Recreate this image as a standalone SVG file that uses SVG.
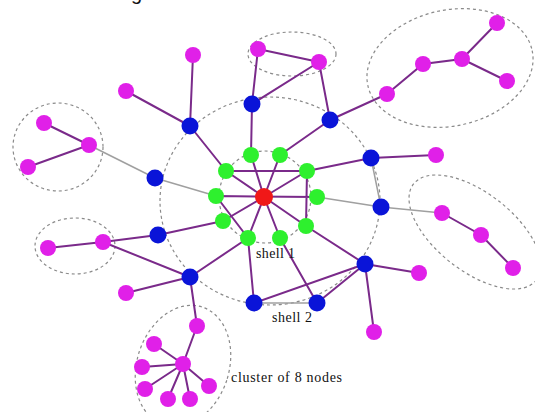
<svg xmlns="http://www.w3.org/2000/svg" width="535" height="412" viewBox="0 0 535 412">
<style>
.e{stroke:#7a2a8a;stroke-width:2;fill:none}
.g{stroke:#a0a0a0;stroke-width:1.5;fill:none}
.d{stroke:#8a8a8a;stroke-width:1.2;stroke-dasharray:3 3;fill:none}
.m{fill:#e020e8}
.b{fill:#0a14d8}
.gr{fill:#2ef02e}
.r{fill:#f01818}
text{font-family:"Liberation Serif","Times New Roman",serif;font-size:14px;fill:#111}
</style>
<rect width="535" height="412" fill="#fff"/>
<text x="131" y="0" style="font-family:'Liberation Sans',Arial,sans-serif;font-size:20px">g</text>
<g id="regions">
<ellipse class="d" cx="270" cy="201" rx="110" ry="104"/>
<circle class="d" cx="265" cy="197" r="46"/>
<ellipse class="d" cx="292" cy="54" rx="44" ry="22"/>
<ellipse class="d" cx="450" cy="68" rx="84" ry="58" transform="rotate(-12 450 68)"/>
<ellipse class="d" cx="58" cy="147" rx="45" ry="44"/>
<ellipse class="d" cx="475" cy="232" rx="78" ry="39" transform="rotate(38 475 232)"/>
<ellipse class="d" cx="75" cy="246" rx="40" ry="28"/>
<ellipse class="d" cx="183" cy="366" rx="46" ry="62" transform="rotate(18 183 366)"/>
</g>
<g id="connectors">
<path class="e" d="M190 126L193 55M190 126L126 91M190 126L226 171"/>
<path class="g" d="M155 178L89 145M155 178L216 196"/>
<path class="e" d="M44 123L89 145M28 167L89 145"/>
<path class="e" d="M252 104L258 49M252 104L319 62M258 49L319 62M252 104L251 155"/>
<path class="e" d="M330 120L319 62M330 120L387 94M330 120L280 155"/>
<path class="e" d="M387 94L423 64L462 59L497 23M462 59L507 81"/>
<path class="e" d="M371 158L436 155M371 158L307 171"/>
<path class="g" d="M371 158L381 207M381 207L317 197M381 207L442 213"/>
<path class="e" d="M442 213L481 235L513 268"/>
<path class="e" d="M365 264L419 273M365 264L374 332M365 264L306 226M365 264L317 303M365 264L254 303"/>
<path class="g" d="M317 303L254 303"/>
<path class="e" d="M317 303L280 238M254 303L248 238"/>
<path class="e" d="M158 235L223 221M158 235L103 242M48 248L103 242M103 242L190 277"/>
<path class="e" d="M190 277L248 238M190 277L126 293M190 277L197 326M197 326L183 364"/>
<path class="e" d="M183 364L154 344M183 364L142 367M183 364L145 389M183 364L168 399M183 364L190 399M183 364L209 386"/>
<path class="e" d="M264 197L251 155M264 197L280 155M264 197L307 171M264 197L226 171M264 197L223 221M264 197L248 238M264 197L280 238M264 197L306 226"/>
<path class="e" d="M226 171L307 171M216 196L317 197M307 171L306 226M216 196L248 238"/>
</g>
<g id="n-red"><circle class="r" cx="264" cy="197" r="9"/></g>
<g id="n-g1"><circle class="gr" cx="251" cy="155" r="8"/></g>
<g id="n-g2"><circle class="gr" cx="280" cy="155" r="8"/></g>
<g id="n-g3"><circle class="gr" cx="226" cy="171" r="8"/></g>
<g id="n-g4"><circle class="gr" cx="307" cy="171" r="8"/></g>
<g id="n-g5"><circle class="gr" cx="216" cy="196" r="8"/></g>
<g id="n-g6"><circle class="gr" cx="317" cy="197" r="8"/></g>
<g id="n-g7"><circle class="gr" cx="223" cy="221" r="8"/></g>
<g id="n-g8"><circle class="gr" cx="306" cy="226" r="8"/></g>
<g id="n-g9"><circle class="gr" cx="248" cy="238" r="8"/></g>
<g id="n-g10"><circle class="gr" cx="280" cy="238" r="8"/></g>
<g id="n-b1"><circle class="b" cx="190" cy="126" r="8.5"/></g>
<g id="n-b2"><circle class="b" cx="155" cy="178" r="8.5"/></g>
<g id="n-b3"><circle class="b" cx="252" cy="104" r="8.5"/></g>
<g id="n-b4"><circle class="b" cx="330" cy="120" r="8.5"/></g>
<g id="n-b5"><circle class="b" cx="371" cy="158" r="8.5"/></g>
<g id="n-b6"><circle class="b" cx="381" cy="207" r="8.5"/></g>
<g id="n-b7"><circle class="b" cx="365" cy="264" r="8.5"/></g>
<g id="n-b8"><circle class="b" cx="317" cy="303" r="8.5"/></g>
<g id="n-b9"><circle class="b" cx="254" cy="303" r="8.5"/></g>
<g id="n-b10"><circle class="b" cx="158" cy="235" r="8.5"/></g>
<g id="n-b11"><circle class="b" cx="190" cy="277" r="8.5"/></g>
<g id="n-m1"><circle class="m" cx="193" cy="55" r="8"/></g>
<g id="n-m2"><circle class="m" cx="126" cy="91" r="8"/></g>
<g id="n-m3"><circle class="m" cx="258" cy="49" r="8"/></g>
<g id="n-m4"><circle class="m" cx="319" cy="62" r="8"/></g>
<g id="n-m5"><circle class="m" cx="44" cy="123" r="8"/></g>
<g id="n-m6"><circle class="m" cx="89" cy="145" r="8"/></g>
<g id="n-m7"><circle class="m" cx="28" cy="167" r="8"/></g>
<g id="n-m8"><circle class="m" cx="387" cy="94" r="8"/></g>
<g id="n-m9"><circle class="m" cx="423" cy="64" r="8"/></g>
<g id="n-m10"><circle class="m" cx="462" cy="59" r="8"/></g>
<g id="n-m11"><circle class="m" cx="497" cy="23" r="8"/></g>
<g id="n-m12"><circle class="m" cx="507" cy="81" r="8"/></g>
<g id="n-m13"><circle class="m" cx="436" cy="155" r="8"/></g>
<g id="n-m14"><circle class="m" cx="442" cy="213" r="8"/></g>
<g id="n-m15"><circle class="m" cx="481" cy="235" r="8"/></g>
<g id="n-m16"><circle class="m" cx="513" cy="268" r="8"/></g>
<g id="n-m17"><circle class="m" cx="419" cy="273" r="8"/></g>
<g id="n-m18"><circle class="m" cx="374" cy="332" r="8"/></g>
<g id="n-m19"><circle class="m" cx="48" cy="248" r="8"/></g>
<g id="n-m20"><circle class="m" cx="103" cy="242" r="8"/></g>
<g id="n-m21"><circle class="m" cx="126" cy="293" r="8"/></g>
<g id="n-m22"><circle class="m" cx="197" cy="326" r="8"/></g>
<g id="n-m23"><circle class="m" cx="154" cy="344" r="8"/></g>
<g id="n-m24"><circle class="m" cx="183" cy="364" r="8"/></g>
<g id="n-m25"><circle class="m" cx="142" cy="367" r="8"/></g>
<g id="n-m26"><circle class="m" cx="145" cy="389" r="8"/></g>
<g id="n-m27"><circle class="m" cx="168" cy="399" r="8"/></g>
<g id="n-m28"><circle class="m" cx="190" cy="399" r="8"/></g>
<g id="n-m29"><circle class="m" cx="209" cy="386" r="8"/></g>
<g id="labels">
<text x="256" y="258" textLength="39">shell 1</text>
<text x="272" y="322" textLength="40">shell 2</text>
<text x="231" y="382" textLength="111">cluster of 8 nodes</text>
</g>
</svg>
